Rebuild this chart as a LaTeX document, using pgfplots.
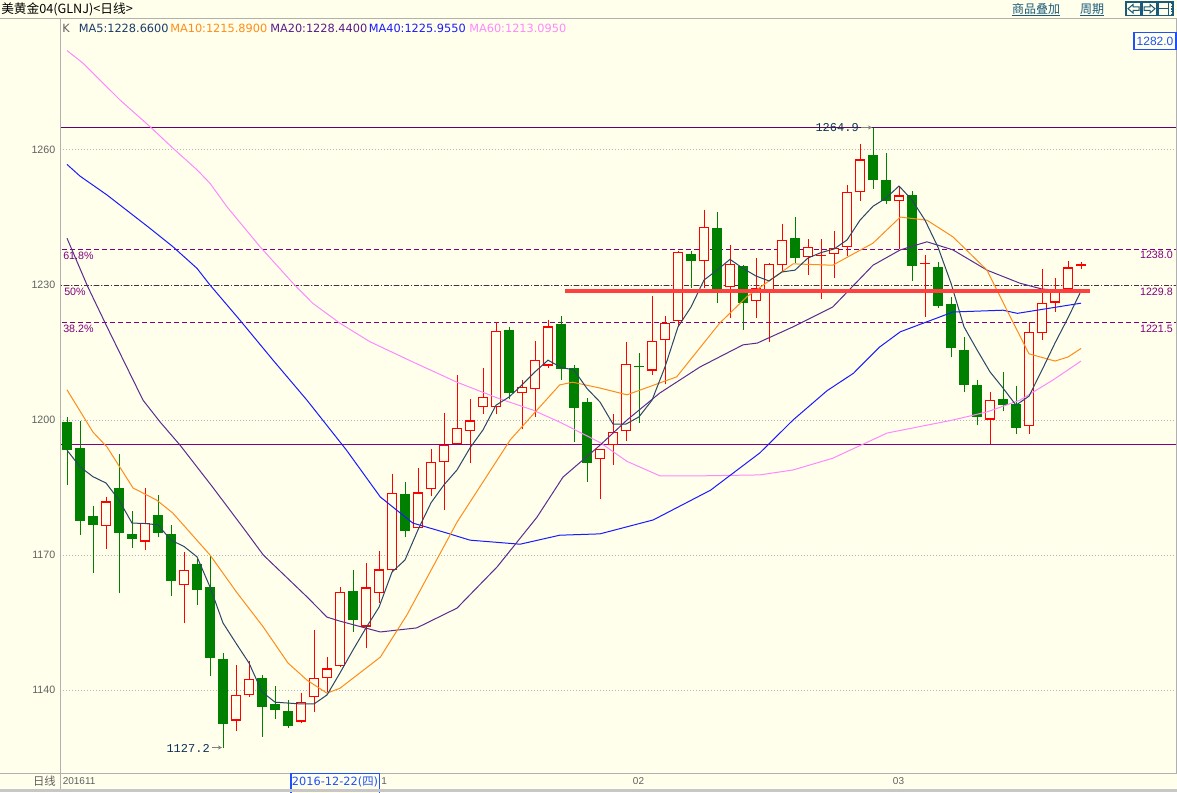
\documentclass[border=0pt]{standalone}
\usepackage{pgfplots}
\pgfplotsset{compat=1.18}
\usepackage{pgfplotstable}
\usetikzlibrary{arrows.meta}
\usepackage{fontspec}
\setmainfont{Liberation Sans}
\newfontfamily\cjk{Noto Sans CJK SC}
\newfontfamily\dv{DejaVu Sans}
\newfontfamily\mono{Liberation Mono}
\definecolor{bgc}{HTML}{FFFFEC}
\definecolor{upred}{HTML}{FF0000}
\definecolor{dngreen}{HTML}{008000}
\definecolor{ma5}{HTML}{2A4666}
\definecolor{ma5t}{HTML}{1A3A6A}
\definecolor{ma10}{HTML}{FF8C1A}
\definecolor{ma20}{HTML}{5B2C8F}
\definecolor{ma20t}{HTML}{5A1A8A}
\definecolor{ma40}{HTML}{1A1AFF}
\definecolor{ma60}{HTML}{FF88FF}
\definecolor{fib}{HTML}{800080}
\definecolor{fibmid}{HTML}{4A2A40}
\definecolor{hdr}{HTML}{1A5A7A}
\definecolor{axgray}{HTML}{B0B0B0}
\definecolor{gridc}{HTML}{B4B4BC}
\definecolor{txtgray}{HTML}{606060}
\definecolor{boxblue}{HTML}{1E50FF}
\definecolor{redline}{HTML}{FF4040}
\definecolor{anno}{HTML}{10305A}

\pgfplotstableread{
x o h l c
3 1176.4 1183.0 1171.4 1181.9
6 1173.0 1185.0 1171.2 1177.2
9 1163.3 1170.6 1155.0 1166.7
13 1133.2 1145.5 1131.0 1139.0
14 1138.8 1146.4 1138.5 1142.4
18 1133.0 1139.3 1132.6 1137.3
19 1138.4 1153.3 1135.2 1142.6
20 1142.6 1147.3 1139.6 1144.8
21 1145.3 1162.8 1145.2 1161.7
23 1154.1 1168.2 1149.4 1162.8
24 1161.6 1170.9 1159.4 1166.8
25 1166.6 1188.1 1166.4 1183.7
27 1175.9 1189.3 1175.7 1183.9
28 1184.6 1193.6 1183.2 1190.7
29 1190.6 1201.6 1180.1 1194.4
30 1194.7 1210.0 1194.6 1198.2
31 1197.6 1204.7 1190.5 1199.9
32 1202.8 1211.5 1201.4 1205.2
33 1202.8 1221.7 1201.4 1219.7
35 1205.9 1208.8 1197.9 1207.3
36 1206.8 1217.6 1200.7 1213.4
37 1212.1 1222.2 1211.6 1220.8
41 1191.3 1193.6 1182.4 1193.5
42 1194.4 1201.3 1189.9 1197.3
43 1197.5 1217.3 1195.4 1212.4
45 1211.0 1227.6 1210.1 1217.5
46 1217.7 1223.1 1207.9 1221.5
47 1221.9 1237.6 1220.7 1237.3
49 1235.3 1246.7 1229.3 1243.0
51 1229.5 1238.9 1222.6 1234.7
53 1226.4 1235.9 1222.7 1229.3
54 1228.9 1235.0 1217.4 1234.6
55 1234.4 1243.6 1233.0 1240.1
57 1236.3 1240.2 1232.3 1238.4
58 1236.4 1240.2 1226.8 1236.7
59 1236.8 1242.0 1231.5 1238.2
60 1238.4 1252.2 1236.4 1250.6
61 1250.6 1261.4 1248.7 1257.9
64 1248.6 1252.1 1237.9 1249.9
66 1234.7 1236.6 1223.0 1235.0
71 1200.1 1206.2 1194.6 1204.4
74 1198.6 1221.8 1197.0 1219.5
75 1219.3 1233.6 1217.8 1226.1
76 1226.1 1231.6 1224.1 1229.1
77 1229.1 1235.3 1229.0 1233.9
78 1234.2 1235.1 1233.6 1234.7
}\up

\pgfplotstableread{
x o h l c
0 1199.6 1200.6 1185.6 1193.4
1 1193.7 1199.8 1174.4 1177.6
2 1178.6 1180.8 1166.1 1176.7
4 1184.8 1192.4 1161.5 1175.0
5 1174.6 1179.8 1171.6 1173.6
7 1179.0 1183.3 1173.9 1175.0
8 1174.6 1176.6 1161.0 1164.3
10 1167.9 1169.2 1159.0 1162.3
11 1162.8 1169.9 1143.2 1147.2
12 1147.0 1148.3 1127.2 1132.5
15 1142.7 1143.3 1129.6 1136.3
16 1136.9 1141.0 1133.6 1135.6
17 1135.3 1137.8 1131.6 1132.1
22 1162.0 1166.7 1153.0 1155.6
26 1183.6 1186.2 1173.9 1175.4
34 1220.0 1220.6 1204.6 1206.1
38 1221.3 1223.2 1208.9 1211.3
39 1211.6 1212.2 1195.2 1202.7
40 1204.0 1204.8 1186.3 1190.5
44 1212.1 1214.8 1199.4 1211.7
48 1236.9 1237.6 1229.3 1235.4
50 1242.7 1246.2 1226.1 1229.0
52 1234.2 1234.4 1220.0 1226.1
56 1240.4 1245.1 1235.0 1235.9
62 1258.9 1264.9 1251.3 1253.4
63 1253.3 1259.4 1248.0 1248.7
65 1250.0 1250.9 1231.0 1234.3
67 1233.9 1235.2 1225.0 1225.4
68 1225.8 1227.3 1213.9 1215.9
69 1215.6 1218.4 1206.3 1207.8
70 1207.8 1209.0 1198.8 1200.7
72 1204.6 1210.7 1201.9 1203.4
73 1203.6 1207.5 1196.8 1198.3
}\down

\begin{document}
\begin{tikzpicture}
\path[use as bounding box] (0pt,0pt) rectangle (882.75pt,-594pt);
\fill[bgc] (0pt,0pt) rectangle (882.75pt,-594pt);

\begin{axis}[at={(45pt,-579pt)}, anchor=south west, scale only axis,
  width=837.75pt, height=564.75pt,
  xmin=-0.5385, xmax=85.385, ymin=1121.78, ymax=1289.11,
  axis line style={draw=none}, xtick=\empty,
  ytick={1140,1170,1200,1230,1260}, major tick length=0pt,
  ymajorgrids,
  grid style={draw=gridc, line width=0.75pt, dash pattern=on 0.75pt off 1.5pt},
  yticklabel style={font=\fontsize{8pt}{9pt}\selectfont, text=txtgray},
  /pgf/number format/assume math mode=true,
  /pgf/number format/1000 sep={},
  clip=true]

% reference lines
\addplot[fib!80!black, line width=0.75pt] coordinates {(-1,1265.0) (86,1265.0)};
\addplot[fib, line width=0.75pt] coordinates {(-1,1194.6) (86,1194.6)};
\addplot[fib, line width=0.75pt, dash pattern=on 3.75pt off 2.25pt] coordinates {(-1,1238.0) (86,1238.0)};
\addplot[fib, line width=0.75pt, dash pattern=on 3.75pt off 2.25pt] coordinates {(-1,1221.6) (86,1221.6)};
\addplot[fibmid, line width=0.75pt, dash pattern=on 3.75pt off 1.5pt on 0.75pt off 1.5pt] coordinates {(-1,1229.8) (86,1229.8)};

% down candles (green, filled)
\addplot[dngreen, line width=0.75pt, quiver={u=0, v={\thisrow{h}-\thisrow{l}}}] table[x=x, y=l] {\down};
\addplot[dngreen, line width=7.875pt, quiver={u=0, v={max(\thisrow{o}-\thisrow{c},0.3)}}] table[x=x, y=c] {\down};
% up candles (red, hollow)
\addplot[upred, line width=0.75pt, quiver={u=0, v={\thisrow{h}-\thisrow{l}}}] table[x=x, y=l] {\up};
\addplot[upred, line width=7.875pt, quiver={u=0, v={max(\thisrow{c}-\thisrow{o},0.3)}}] table[x=x, y=o] {\up};
\addplot[bgc, line width=6.2pt, quiver={u=0, v={max(\thisrow{c}-\thisrow{o}-0.5,0)}}] table[x=x, y expr=\thisrow{o}+0.25] {\up};

% MA60
\addplot[ma60, line width=0.75pt] coordinates {(0,1282.1) (1.23,1279.3) (4.08,1271.1) (6.38,1265.2) (8.15,1260.4) (10,1255.6) (11,1252.6) (12.3,1247.4) (14.85,1238.5) (17.38,1230.4) (18.92,1225.9) (21,1221.5) (23.3,1217.4) (26.6,1212.9) (30,1208.4) (33.1,1204.9) (35.85,1202.2) (38,1199.4) (41,1195.0) (43.08,1190.8) (45.6,1187.6) (48.9,1187.6) (53.3,1187.8) (55.85,1188.9) (58.9,1191.5) (63.08,1197.1) (68.15,1200.0) (70.77,1201.8) (73.3,1204.4) (75.85,1208.9) (78,1213.1)};
% MA40
\addplot[ma40, line width=0.75pt] coordinates {(0,1256.8) (1,1254.2) (3.08,1250.0) (6.38,1242.6) (8.15,1238.5) (10,1233.7) (11,1230.0) (13.3,1222.2) (15.85,1213.3) (18.46,1204.4) (21.5,1193.3) (24.1,1182.9) (26.6,1177.1) (29.2,1174.9) (31,1173.3) (34.85,1172.4) (37.9,1174.4) (41,1174.7) (45.1,1177.8) (49.5,1184.4) (53.3,1192.7) (55.85,1200.0) (58.46,1206.5) (60.5,1210.4) (62.5,1216.2) (64.1,1219.6) (68.15,1224.0) (72,1224.4) (73.1,1223.7) (78,1225.96)};
% MA20
\addplot[ma20, line width=0.75pt] coordinates {(0,1240.4) (1.6,1229.6) (3.08,1220.7) (4.08,1214.8) (5.85,1204.4) (7.15,1199.6) (8.7,1194.4) (11.2,1185.1) (13.85,1174.9) (15.1,1170.0) (18.46,1160.7) (20,1156.2) (21,1155.3) (24.1,1152.9) (26.9,1153.8) (30,1158.2) (33.1,1167.4) (36.15,1178.4) (38.15,1187.3) (41,1194.4) (43.08,1200.0) (45.6,1206.0) (48.7,1211.8) (52,1216.7) (53.1,1217.1) (55.85,1220.7) (58.9,1225.1) (60.2,1229.0) (62,1234.4) (64.1,1237.8) (66.15,1239.6) (68.15,1237.8) (70.77,1233.3) (73.3,1230.4) (75,1229.1) (78,1228.44)};
% MA10
\addplot[ma10, line width=0.75pt] coordinates {(0,1206.7) (2,1197.3) (3.08,1194.0) (5.08,1184.9) (6.9,1182.2) (8.15,1179.3) (11,1170.0) (13.08,1161.6) (15.1,1154.0) (17,1146.0) (18.46,1142.2) (20,1139.3) (21,1140.4) (24.1,1147.3) (26.15,1156.7) (30,1177.3) (34.1,1195.6) (36.15,1202.2) (37.9,1207.8) (38.9,1208.4) (41,1207.1) (43.08,1205.6) (46.9,1209.6) (50.2,1221.5) (52.3,1227.4) (55.85,1234.7) (58.9,1234.4) (62,1239.3) (64.1,1245.1) (66.15,1244.4) (68.15,1240.7) (70.77,1233.3) (72.3,1224.4) (74,1214.7) (76,1213.1) (77,1214.0) (78,1215.89)};
% MA5
\addplot[ma5, line width=0.75pt] coordinates {(0,1193.3) (1,1189.6) (2,1187.4) (3,1186.0) (4,1182.2) (5,1177.1) (6,1177.0) (7,1176.7) (8,1173.3) (9,1171.9) (10,1169.6) (11,1162.9) (12,1154.9) (13,1150.4) (14,1146.0) (15,1139.6) (16,1137.3) (17,1137.1) (18,1136.9) (19,1136.9) (20,1138.9) (21,1143.8) (22,1148.9) (23,1153.8) (24,1158.4) (25,1166.2) (26,1168.9) (27,1175.6) (28,1181.6) (29,1185.6) (30,1188.9) (31,1193.8) (32,1197.8) (33,1203.3) (34,1205.1) (35,1207.8) (36,1210.7) (37,1213.3) (38,1211.7) (39,1211.1) (40,1207.0) (41,1204.0) (42,1199.1) (43,1199.1) (44,1200.7) (45,1204.4) (46,1211.8) (47,1220.7) (48,1225.1) (49,1231.1) (50,1233.3) (51,1235.7) (52,1233.7) (53,1232.0) (54,1230.9) (55,1232.9) (56,1233.3) (57,1236.0) (58,1237.2) (59,1238.0) (60,1240.0) (61,1244.4) (62,1247.5) (63,1249.3) (64,1252.0) (65,1248.9) (66,1244.4) (67,1238.4) (68,1230.4) (69,1220.7) (70,1215.6) (71,1210.7) (72,1207.1) (73,1203.3) (74,1205.3) (75,1211.1) (76,1217.1) (77,1222.7) (78,1228.66)};

% thick red support line
\addplot[redline, line width=3pt] coordinates {(38.3,1228.7) (78.7,1228.7)};
\end{axis}

\begin{scope}[x=0.75pt, y=-0.75pt]
% frame lines
\draw[axgray, line width=0.75pt] (0,18.5) -- (1177,18.5);
\draw[axgray, line width=0.75pt] (60.5,18.5) -- (60.5,792);
\draw[axgray, line width=0.75pt] (0,773) -- (1177,773);
\draw[axgray, line width=0.75pt] (1176.3,18.5) -- (1176.3,773);
% title
\node[anchor=west, inner sep=0] at (1,9.5) {\cjk\fontsize{9.5pt}{10pt}\selectfont 美黄金04(GLNJ)<日线>};
\node[anchor=center, inner sep=0, text=hdr] at (1036,9) {\cjk\fontsize{9pt}{10pt}\selectfont 商品叠加};
\draw[hdr, line width=0.75pt] (1012,16) -- (1060,16);
\node[anchor=center, inner sep=0, text=hdr] at (1092,9) {\cjk\fontsize{9pt}{10pt}\selectfont 周期};
\draw[hdr, line width=0.75pt] (1080,16) -- (1104,16);
% buttons
\draw[hdr, line width=0.9pt] (1126,2) rectangle (1141,15.5);
\draw[hdr, line width=0.75pt] (1128,8.75) -- (1133,4.5) -- (1133,7) -- (1139,7) -- (1139,10.5) -- (1133,10.5) -- (1133,13) -- cycle;
\draw[hdr, line width=0.9pt] (1142,2) rectangle (1157,15.5);
\draw[hdr, line width=0.75pt] (1155,8.75) -- (1150,4.5) -- (1150,7) -- (1144,7) -- (1144,10.5) -- (1150,10.5) -- (1150,13) -- cycle;
\draw[hdr, line width=0.9pt] (1158,2) rectangle (1173,15.5);
\draw[hdr, line width=0.75pt] (1158,8.75) -- (1168,8.75) (1168,2) -- (1168,15.5);
\draw[hdr, line width=0.75pt, dash pattern=on 1pt off 1pt] (1171,3) -- (1171,15);
% legend line
\node[anchor=west, inner sep=0, text=txtgray] at (62,28) {\dv\fontsize{8.5pt}{9pt}\selectfont K};
\node[anchor=west, inner sep=0, text=ma5t] at (78.5,28) {\dv\fontsize{8.5pt}{9pt}\selectfont MA5:1228.6600};
\node[anchor=west, inner sep=0, text=ma10] at (170,28) {\dv\fontsize{8.5pt}{9pt}\selectfont MA10:1215.8900};
\node[anchor=west, inner sep=0, text=ma20t] at (270,28) {\dv\fontsize{8.5pt}{9pt}\selectfont MA20:1228.4400};
\node[anchor=west, inner sep=0, text=ma40] at (368.5,28) {\dv\fontsize{8.5pt}{9pt}\selectfont MA40:1225.9550};
\node[anchor=west, inner sep=0, text=ma60] at (469,28) {\dv\fontsize{8.5pt}{9pt}\selectfont MA60:1213.0950};
% top price box
\draw[boxblue, fill=bgc, line width=0.9pt] (1134,32.5) rectangle (1176,49.5);
\node[anchor=center, inner sep=0, text=boxblue] at (1155,41) {\fontsize{9pt}{10pt}\selectfont 1282.0};
% fib labels
\node[anchor=west, inner sep=0, text=fib] at (63,255.5) {\fontsize{8pt}{9pt}\selectfont 61.8\%};
\node[anchor=west, inner sep=0, text=fib] at (64,292) {\fontsize{8pt}{9pt}\selectfont 50\%};
\node[anchor=west, inner sep=0, text=fib] at (63,329) {\fontsize{8pt}{9pt}\selectfont 38.2\%};
\node[anchor=east, inner sep=0, text=fib] at (1173,255) {\fontsize{8pt}{9pt}\selectfont 1238.0};
\node[anchor=east, inner sep=0, text=fib] at (1173,292) {\fontsize{8pt}{9pt}\selectfont 1229.8};
\node[anchor=east, inner sep=0, text=fib] at (1173,329) {\fontsize{8pt}{9pt}\selectfont 1221.5};
% high / low annotations
\node[anchor=east, inner sep=0, text=anno] at (859,128) {\mono\fontsize{9pt}{10pt}\selectfont 1264.9};
\draw[gray, line width=0.75pt, -{Stealth[length=3pt,width=3pt]}] (861,127.5) -- (872,127.5);
\node[anchor=east, inner sep=0, text=anno] at (210,748) {\mono\fontsize{9pt}{10pt}\selectfont 1127.2};
\draw[gray, line width=0.75pt, -{Stealth[length=3pt,width=3pt]}] (212,747.5) -- (222,747.5);
% bottom labels
\node[anchor=east, inner sep=0, text=txtgray] at (56,781.5) {\cjk\fontsize{8.5pt}{9pt}\selectfont 日线};
\node[anchor=west, inner sep=0, text=txtgray] at (62.5,781.5) {\fontsize{7.5pt}{8pt}\selectfont 201611};
\node[anchor=west, inner sep=0, text=txtgray] at (381,781.5) {\fontsize{7.5pt}{8pt}\selectfont 1};
\node[anchor=center, inner sep=0, text=txtgray] at (638.5,781.5) {\fontsize{7.5pt}{8pt}\selectfont 02};
\node[anchor=center, inner sep=0, text=txtgray] at (898.5,781.5) {\fontsize{7.5pt}{8pt}\selectfont 03};
\draw[boxblue, fill=bgc, line width=0.9pt] (291,773.5) rectangle (379.5,795);
\node[anchor=center, inner sep=0, text=boxblue] at (335,782) {\dv\fontsize{8.5pt}{9pt}\selectfont 2016-12-22({\cjk 四})};
\fill[black!22] (0,789) rectangle (1177,792);
\end{scope}
\end{tikzpicture}
\end{document}
